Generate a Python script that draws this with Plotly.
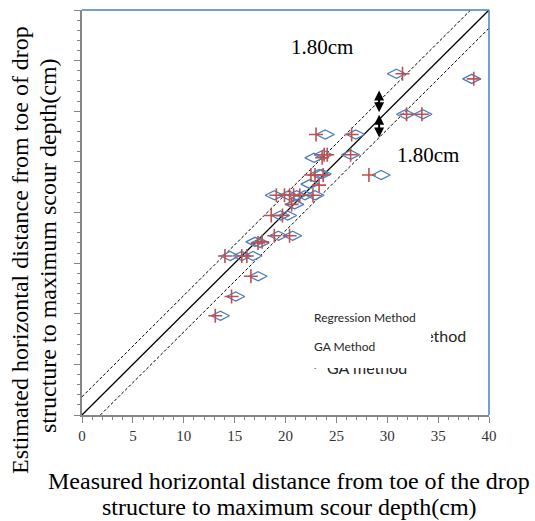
import plotly.graph_objects as go

# ---- data ----
reg_x = [30.9, 38.3, 31.8, 33.5, 23.9, 26.9, 22.8, 23.7, 26.4, 29.4, 23.3, 23.6, 22.4,
         18.9, 20.3, 21.1, 21.9, 22.9, 20.9, 19.5, 20.2, 19.3, 20.7, 17.0, 17.5,
         14.55, 15.7, 16.8, 17.3, 15.1, 13.6]
reg_y = [33.7, 33.2, 29.7, 29.7, 27.7, 27.7, 25.4, 25.7, 25.7, 23.7, 23.8, 23.8, 22.8,
         21.7, 21.7, 21.7, 21.7, 21.7, 20.8, 19.7, 19.7, 17.7, 17.7, 17.1, 17.0,
         15.7, 15.7, 15.7, 13.7, 11.7, 9.8]

ga_x = [31.5, 38.5, 31.9, 33.4, 23.0, 26.5, 23.8, 24.1, 23.6, 26.4, 28.2, 22.5, 22.9, 23.7,
        23.3, 19.1, 19.9, 20.4, 20.8, 21.4, 22.7, 20.6, 18.6, 19.7, 18.9, 20.4, 17.3, 17.7,
        14.05, 15.7, 16.2, 16.6, 14.7, 13.1]
ga_y = [33.7, 33.2, 29.7, 29.7, 27.7, 27.7, 25.7, 25.7, 25.4, 25.7, 23.7, 23.7, 23.7, 23.7,
        22.7, 21.7, 21.7, 21.7, 21.7, 21.7, 21.7, 20.8, 19.7, 19.7, 17.7, 17.7, 17.0, 17.1,
        15.7, 15.7, 15.7, 13.7, 11.7, 9.8]

band = 1.80
axis_max = 40
tick_vals = [0, 5, 10, 15, 20, 25, 30, 35, 40]

x_title = ["Measured horizontal distance from toe of the drop",
           "structure to maximum scour depth(cm)"]
y_title = ["Estimated horizontal distance from toe of drop",
           "structure to maximum scour depth(cm)"]

BLUE = "#4a7ebb"
RED = "#c0504d"
GRAY = "#868686"
SERIF = "Liberation Serif, Times New Roman, serif"

fig = go.Figure()

# 1:1 line and +/- band
fig.add_trace(go.Scatter(x=[0, axis_max], y=[0, axis_max], mode="lines",
                         line=dict(color="black", width=1.3), showlegend=False, hoverinfo="skip"))
fig.add_trace(go.Scatter(x=[0, axis_max - band], y=[band, axis_max], mode="lines",
                         line=dict(color="black", width=1, dash="3px,2px"),
                         showlegend=False, hoverinfo="skip"))
fig.add_trace(go.Scatter(x=[band, axis_max], y=[0, axis_max - band], mode="lines",
                         line=dict(color="black", width=1, dash="3px,2px"),
                         showlegend=False, hoverinfo="skip"))

fig.add_trace(go.Scatter(x=reg_x, y=reg_y, mode="markers", name="Regression Method",
                         marker=dict(symbol="diamond-wide-open", size=13, color=BLUE,
                                     line=dict(color=BLUE, width=1.3)),
                         showlegend=False))
fig.add_trace(go.Scatter(x=ga_x, y=ga_y, mode="markers", name="GA Method",
                         marker=dict(symbol="cross-thin-open", size=10, color=RED,
                                     line=dict(color=RED, width=1.6)),
                         showlegend=False))

ann = []
# 1.80cm labels
ann.append(dict(x=23.6, y=36.3, xref="x", yref="y", text="1.80cm", showarrow=False,
                font=dict(family=SERIF, size=21, color="black")))
ann.append(dict(x=34.0, y=25.7, xref="x", yref="y", text="1.80cm", showarrow=False,
                font=dict(family=SERIF, size=21, color="black")))
# double arrows
for (y0, y1) in [(32.2, 29.9), (29.8, 27.4)]:
    ann.append(dict(x=29.2, y=y1, ax=29.2, ay=y0, xref="x", yref="y", axref="x", ayref="y",
                    text="", showarrow=True, arrowhead=2, startarrowhead=2,
                    arrowside="end+start", arrowwidth=2, arrowsize=1,
                    startarrowsize=1, arrowcolor="black"))

# legend remnants (larger, partially hidden)
ann.append(dict(x=37.84, y=7.9, xref="x", yref="y", xanchor="right", yanchor="middle",
                text="Regression method", showarrow=False, borderpad=0,
                font=dict(family="Lato, sans-serif", size=16, color="#262626")))
ann.append(dict(x=24.0, y=(415 - 367) / 10.14, xref="x", yref="y", xanchor="left",
                yanchor="middle", text="GA method", showarrow=False, borderpad=0,
                font=dict(family="Lato, sans-serif", size=16, color="#262626")))
ann.append(dict(x=22.9, y=(415 - 364) / 10.14, xref="x", yref="y", xanchor="center",
                yanchor="middle", text="+", showarrow=False, borderpad=0,
                font=dict(family="Lato, sans-serif", size=18, color=RED)))
# white cover box (hides the upper parts of the old legend)
ann.append(dict(x=(367 - 82) / 10.175, y=(415 - 336) / 10.14, xref="x", yref="y",
                xanchor="center", yanchor="middle", text=" ", showarrow=False,
                width=128, height=64, bgcolor="white", borderpad=0, borderwidth=0))
# small legend labels
ann.append(dict(x=(313 - 82) / 10.175, y=(415 - 317) / 10.14, xref="x", yref="y",
                xanchor="left", yanchor="middle", text="Regression Method", showarrow=False,
                borderpad=0, font=dict(family="Lato, sans-serif", size=12, color="#262626")))
ann.append(dict(x=(313 - 82) / 10.175, y=(415 - 346) / 10.14, xref="x", yref="y",
                xanchor="left", yanchor="middle", text="GA Method", showarrow=False,
                borderpad=0, font=dict(family="Lato, sans-serif", size=12, color="#262626")))

# axis titles
W, H = 407.0, 405.0
ann.append(dict(x=(289 - 82) / W, y=(415 - 481) / H, xref="paper", yref="paper",
                text=x_title[0], showarrow=False, xanchor="center", yanchor="middle",
                font=dict(family=SERIF, size=24, color="black")))
ann.append(dict(x=(289 - 82) / W, y=(415 - 507) / H, xref="paper", yref="paper",
                text=x_title[1], showarrow=False, xanchor="center", yanchor="middle",
                font=dict(family=SERIF, size=24, color="black")))
ann.append(dict(x=(20 - 82) / W, y=(415 - 250) / H, xref="paper", yref="paper",
                text=y_title[0], showarrow=False, textangle=-90, xanchor="center",
                yanchor="middle", font=dict(family=SERIF, size=24, color="black")))
ann.append(dict(x=(48 - 82) / W, y=(415 - 246) / H, xref="paper", yref="paper",
                text=y_title[1], showarrow=False, textangle=-90, xanchor="center",
                yanchor="middle", font=dict(family=SERIF, size=24, color="black")))

fig.update_layout(
    width=535, height=521,
    margin=dict(l=82, r=46, t=10, b=106),
    plot_bgcolor="white", paper_bgcolor="white",
    annotations=ann,
    shapes=[
        dict(type="line", xref="paper", yref="paper", x0=0, x1=1, y0=1, y1=1,
             line=dict(color=BLUE, width=1.5)),
        dict(type="line", xref="paper", yref="paper", x0=1, x1=1, y0=0, y1=1,
             line=dict(color=BLUE, width=1.5)),
    ],
)
fig.update_xaxes(range=[0, axis_max], tickvals=tick_vals, ticks="outside", ticklen=6,
                 tickcolor=GRAY, tickwidth=1, showline=True, linecolor=GRAY, linewidth=1.5,
                 showgrid=False, zeroline=False,
                 tickfont=dict(family=SERIF, size=15, color="#333333"),
                 minor=dict(dtick=1, ticks="outside", ticklen=3, tickcolor=GRAY, showgrid=False))
fig.update_yaxes(range=[0, axis_max], tickvals=tick_vals, ticks="outside", ticklen=6,
                 tickcolor=GRAY, tickwidth=1, showline=True, linecolor=GRAY, linewidth=1.5,
                 showgrid=False, zeroline=False, showticklabels=False,
                 minor=dict(dtick=1, ticks="outside", ticklen=3, tickcolor=GRAY, showgrid=False))

fig.write_html("out.html")
